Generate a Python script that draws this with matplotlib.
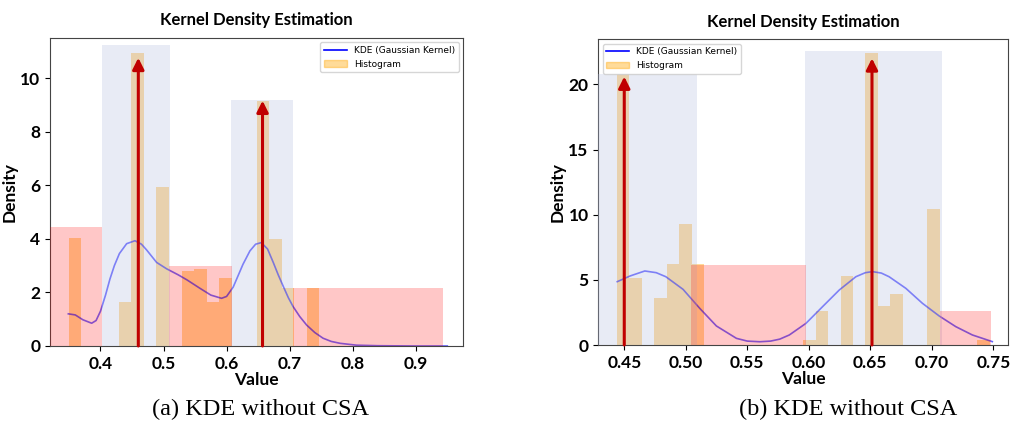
import numpy as np
import matplotlib.pyplot as plt
from matplotlib.lines import Line2D
from matplotlib.patches import Patch

plt.rcParams['font.family'] = ['Lato', 'DejaVu Sans']

# ---- panel (a) ----
a_bins = (0.35, 0.945, 30)
a_hist = [4.05, 0, 0, 0, 1.65, 10.93, 0, 5.95, 0, 2.81,
          2.86, 1.65, 2.55, 0, 0, 9.16, 4.0, 2.18, 0, 2.18,
          0, 0, 0, 0, 0, 0, 0, 0, 0, 0]
a_kde_x = [0.349, 0.36, 0.372, 0.386, 0.393, 0.40, 0.408, 0.415, 0.422, 0.43, 0.4415, 0.4547,
           0.465, 0.473, 0.489, 0.505, 0.523, 0.537, 0.558, 0.575, 0.592, 0.60,
           0.6105, 0.626, 0.637, 0.646, 0.655, 0.665, 0.674, 0.682, 0.690, 0.698,
           0.7055, 0.716, 0.727, 0.74, 0.753, 0.766, 0.78, 0.806, 0.84, 0.9, 0.95]
a_kde_y = [1.2, 1.16, 0.98, 0.85, 0.95, 1.3, 1.9, 2.5, 3.0, 3.45, 3.82, 3.93,
           3.8, 3.59, 3.12, 2.88, 2.66, 2.47, 2.15, 1.9, 1.78, 1.85,
           2.2, 3.05, 3.55, 3.8, 3.86, 3.62, 3.12, 2.65, 2.22, 1.8,
           1.47, 1.1, 0.78, 0.5, 0.29, 0.17, 0.1, 0.03, 0.01, 0.0, 0.0]
a_blue = [(0.402, 0.510, 11.24), (0.607, 0.7055, 9.19)]
a_pink = [(0.32, 0.402, 4.45), (0.509, 0.608, 2.99), (0.7055, 0.943, 2.18)]
a_peaks = [(0.46, 10.76), (0.657, 9.16)]
a_xlim = (0.32, 0.975)
a_ylim = (0, 11.5)
a_xticks = [0.4, 0.5, 0.6, 0.7, 0.8, 0.9]
a_yticks = [0, 2, 4, 6, 8, 10]

# ---- panel (b) ----
b_bins = (0.4441, 0.7470, 30)
b_hist = [20.8, 5.12, 0, 3.63, 6.19, 9.26, 6.19, 0, 0, 0,
          0, 0, 0, 0, 0, 0.38, 2.61, 0, 5.32, 0,
          22.4, 3.0, 3.89, 0, 0, 10.41, 0, 0, 0, 0.38]
b_kde_x = [0.4443, 0.4548, 0.4667, 0.4760, 0.4838, 0.4978, 0.5114, 0.5249, 0.5412, 0.5500,
           0.5602, 0.5690, 0.5764, 0.5842, 0.5977, 0.6112, 0.6248, 0.6383, 0.6460, 0.6518,
           0.6590, 0.6653, 0.6789, 0.6924, 0.706, 0.7195, 0.733, 0.7492]
b_kde_y = [4.86, 5.3, 5.68, 5.55, 5.24, 4.27, 2.81, 1.46, 0.51, 0.3,
           0.25, 0.3, 0.45, 0.77, 1.66, 2.94, 4.22, 5.24, 5.55, 5.63,
           5.52, 5.24, 4.35, 3.2, 2.23, 1.41, 0.77, 0.26]
b_blue = [(0.4289, 0.509, 20.77), (0.5972, 0.708, 22.56)]
b_pink = [(0.5045, 0.5976, 6.14), (0.7067, 0.7479, 2.61)]
b_peaks = [(0.45, 20.6), (0.6514, 22.0)]
b_xlim = (0.4289, 0.7622)
b_ylim = (0, 23.46)
b_xticks = [0.45, 0.50, 0.55, 0.60, 0.65, 0.70, 0.75]
b_yticks = [0, 5, 10, 15, 20]


def draw(ax, bins, hist, kx, ky, blue, pink, peaks, xlim, ylim, xticks, yticks,
         fmt, legend_loc):
    edges = np.linspace(*bins[:2], bins[2] + 1)
    ax.bar(edges[:-1], hist, width=np.diff(edges), align='edge',
           color='orange', alpha=0.4, zorder=1)
    ax.plot(kx, ky, color='blue', alpha=0.6, lw=1.2, zorder=2)
    for lo, hi, h in blue:
        ax.bar(lo, h, width=hi - lo, align='edge', color='#b3bde0',
               alpha=0.3, lw=0, zorder=3)
    for lo, hi, h in pink:
        ax.bar(lo, h, width=hi - lo, align='edge', color='red',
               alpha=0.22, lw=0, zorder=3)
    for x, h in peaks:
        ax.annotate('', xy=(x, h), xytext=(x, 0),
                    arrowprops=dict(arrowstyle='-|>', color='#c00000', lw=2.2,
                                    mutation_scale=17, shrinkA=0, shrinkB=0),
                    zorder=5)
    ax.set_xlim(*xlim)
    ax.set_ylim(*ylim)
    ax.set_xticks(xticks)
    ax.set_xticklabels([fmt.format(t) for t in xticks])
    ax.set_yticks(yticks)
    ax.tick_params(labelsize=12.5)
    for lab in ax.get_xticklabels() + ax.get_yticklabels():
        lab.set_fontweight('bold')
    ax.set_title('Kernel Density Estimation', fontsize=12, fontweight='bold', pad=9)
    ax.set_xlabel('Value', fontsize=12.5, fontweight='bold', labelpad=0)
    ax.set_ylabel('Density', fontsize=12.5, fontweight='bold', labelpad=2)
    handles = [Line2D([], [], color='blue', lw=1.2),
               Patch(color='orange', alpha=0.4)]
    ax.legend(handles, ['KDE (Gaussian Kernel)', 'Histogram'], loc=legend_loc,
              prop={'family': 'DejaVu Sans', 'size': 6.5}, handlelength=2.5)
    for s in ax.spines.values():
        s.set_color('#444444')


fig = plt.figure(figsize=(10.11, 4.29), dpi=100)
ax1 = fig.add_axes([0.0495, 0.1935, 0.4085, 0.718])
ax2 = fig.add_axes([0.5918, 0.1958, 0.4055, 0.7126])

draw(ax1, a_bins, a_hist, a_kde_x, a_kde_y, a_blue, a_pink, a_peaks,
     a_xlim, a_ylim, a_xticks, a_yticks, '{:.1f}', 'upper right')
draw(ax2, b_bins, b_hist, b_kde_x, b_kde_y, b_blue, b_pink, b_peaks,
     b_xlim, b_ylim, b_xticks, b_yticks, '{:.2f}', 'upper left')

fig.text(0.258, 0.045, '(a) KDE without CSA', family='Liberation Serif',
         fontsize=17.5, ha='center', va='center')
fig.text(0.839, 0.045, '(b) KDE without CSA', family='Liberation Serif',
         fontsize=17.5, ha='center', va='center')

plt.savefig('out.png', dpi=100)
